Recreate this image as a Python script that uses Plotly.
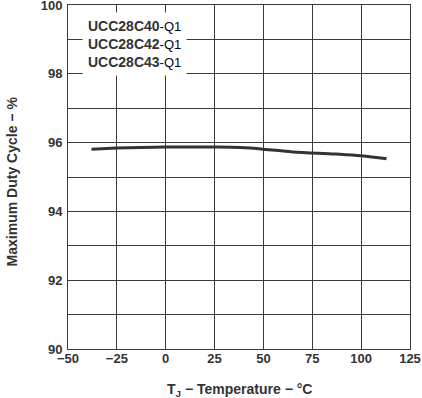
import plotly.graph_objects as go

temps = [-38, -25, -13, 0, 12.5, 25, 38, 50, 65, 87, 100, 113]
duty = [95.81, 95.84, 95.86, 95.87, 95.875, 95.87, 95.855, 95.81, 95.73, 95.67, 95.62, 95.53]

x_ticks = [-50, -25, 0, 25, 50, 75, 100, 125]
y_ticks = [90, 92, 94, 96, 98, 100]
legend_parts = ["UCC28C40", "UCC28C42", "UCC28C43"]
x_title = "<b>T<sub>J</sub> − Temperature − °C</b>"
y_title = "<b>Maximum Duty Cycle − %</b>"

FONT = "Liberation Sans, Arial, sans-serif"
GRID = "#3a3a3a"
TXT = "#333333"

fig = go.Figure()
fig.add_trace(go.Scatter(x=temps, y=duty, mode="lines",
                         line=dict(color="#333333", width=3, shape="spline"),
                         showlegend=False, hoverinfo="skip"))

fig.update_layout(
    width=422, height=398,
    margin=dict(l=67.5, r=11.5, t=5, b=48.7, autoexpand=False),
    paper_bgcolor="white", plot_bgcolor="white",
    font=dict(family=FONT, size=13, color=TXT),
    showlegend=False,
)
fig.update_xaxes(
    range=[-50, 125], tickvals=x_ticks,
    ticktext=[("<b>" + str(v).replace("-", "−") + "</b>") for v in x_ticks],
    tickfont=dict(size=13, color=TXT),
    showgrid=True, gridcolor=GRID, gridwidth=1,
    showline=True, linecolor=GRID, linewidth=1, mirror=True,
    ticks="", zeroline=False, automargin=False, ticklabeloverflow="allow",
    ticklabelstandoff=-3,
)
fig.update_yaxes(
    range=[90, 100], tickvals=y_ticks,
    ticktext=["<b>%d</b>" % v for v in y_ticks],
    tickfont=dict(size=13, color=TXT),
    showgrid=True, gridcolor=GRID, gridwidth=1,
    minor=dict(dtick=1, tick0=90, showgrid=True, gridcolor=GRID, gridwidth=1),
    showline=True, linecolor=GRID, linewidth=1, mirror=True,
    ticks="", zeroline=False, automargin=False, ticklabeloverflow="allow",
    ticklabelstandoff=2,
)

fig.add_annotation(xref="paper", yref="paper", x=0.5, y=-0.12,
                   xanchor="center", yanchor="middle", showarrow=False,
                   text=x_title, font=dict(family=FONT, size=14, color=TXT))
fig.add_annotation(xref="paper", yref="paper", x=-0.165, y=0.486,
                   xanchor="center", yanchor="middle", showarrow=False, textangle=-90,
                   text=y_title, font=dict(family=FONT, size=14, color=TXT))

legend_text = "<br>".join(
    "<b>%s</b><span style='font-size:13px;color:#000022'>-Q1</span>" % p for p in legend_parts
)
fig.add_annotation(
    xref="paper", yref="paper", x=0.04, y=0.98, xanchor="left", yanchor="top",
    text=legend_text, showarrow=False, align="left",
    bgcolor="white", borderpad=5,
    font=dict(family=FONT, size=14, color=TXT),
)

fig.write_html("out.html", config={"displayModeBar": False},
               post_script="document.body.style.margin='0px';")
